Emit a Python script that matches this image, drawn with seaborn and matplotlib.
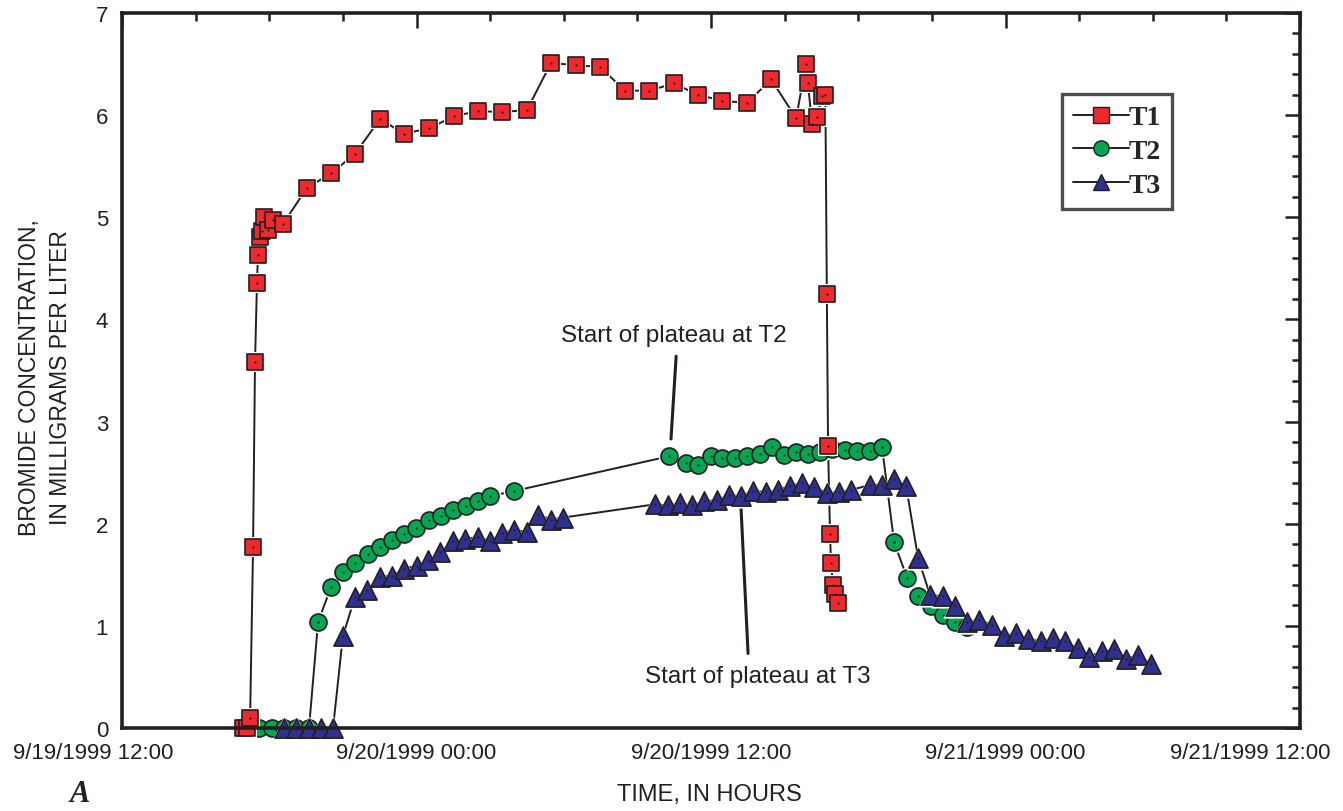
import matplotlib
matplotlib.use("Agg")
import matplotlib.pyplot as plt
import matplotlib.dates as mdates
import matplotlib.transforms as mtransforms
from matplotlib.ticker import MultipleLocator, FuncFormatter
from matplotlib.lines import Line2D
import pandas as pd
import seaborn as sns

start = pd.Timestamp("1999-09-19 12:00")

# elapsed hours since 9/19/1999 12:00 and bromide concentration (mg/L)
t1_hours = [4.93, 5.10, 5.22, 5.34, 5.42, 5.50, 5.54, 5.62, 5.70, 5.78, 5.95, 6.15, 6.55,
            7.54, 8.52, 9.49, 10.51, 11.49, 12.51, 13.53, 14.51, 15.48, 16.50, 17.48,
            18.50, 19.48, 20.50, 21.48, 22.49, 23.47, 24.45, 25.47, 26.45, 27.47, 27.87,
            27.95, 28.12, 28.32, 28.52, 28.66, 28.72, 28.77, 28.85, 28.89, 28.97, 29.05, 29.18]
t1_conc = [0.0, 0.0, 0.1, 1.77, 3.58, 4.36, 4.63, 4.81, 4.87, 5.0, 4.88, 4.97, 4.93,
           5.29, 5.43, 5.62, 5.96, 5.82, 5.87, 5.99, 6.04, 6.03, 6.05, 6.51,
           6.49, 6.47, 6.24, 6.24, 6.31, 6.20, 6.14, 6.12, 6.35, 5.97, 6.50,
           6.31, 5.91, 5.98, 6.19, 6.20, 4.25, 2.76, 1.90, 1.62, 1.40, 1.31, 1.22]

t2_hours = [5.58, 6.11, 6.60, 7.09, 7.62, 7.99, 8.52, 9.00, 9.49, 10.02, 10.51, 11.00,
            11.49, 11.98, 12.51, 13.00, 13.49, 14.02, 14.51, 15.00, 15.97, 22.29, 22.98,
            23.47, 24.00, 24.45, 24.98, 25.47, 26.00, 26.49, 26.98, 27.47, 27.95, 28.44,
            28.93, 29.46, 29.95, 30.48, 30.97, 31.46, 31.99, 32.44, 32.97, 33.46, 33.94, 34.43]
t2_conc = [0.0, 0.0, 0.0, 0.0, 0.0, 1.04, 1.38, 1.53, 1.62, 1.70, 1.77, 1.84,
           1.90, 1.96, 2.04, 2.08, 2.13, 2.17, 2.22, 2.27, 2.32, 2.66, 2.59,
           2.57, 2.66, 2.64, 2.64, 2.66, 2.68, 2.75, 2.67, 2.70, 2.68, 2.70,
           2.73, 2.72, 2.71, 2.71, 2.75, 1.82, 1.47, 1.29, 1.19, 1.11, 1.04, 0.99]

t3_hours = [6.60, 7.09, 7.62, 8.11, 8.60, 9.00, 9.49, 9.98, 10.51, 11.00, 11.49, 12.02,
            12.47, 12.96, 13.49, 13.98, 14.51, 15.00, 15.48, 15.97, 16.50, 16.95, 17.48,
            17.97, 21.72, 22.25, 22.74, 23.23, 23.72, 24.25, 24.73, 25.22, 25.71, 26.24,
            26.73, 27.22, 27.71, 28.20, 28.73, 29.22, 29.71, 30.48, 30.97, 31.46, 31.95,
            32.44, 32.93, 33.46, 33.94, 34.43, 34.92, 35.45, 35.94, 36.43, 36.92, 37.45,
            37.94, 38.43, 38.96, 39.40, 39.93, 40.42, 40.91, 41.40, 41.93]
t3_conc = [0.0, 0.0, 0.0, 0.0, 0.0, 0.90, 1.28, 1.35, 1.48, 1.49, 1.56, 1.59,
           1.64, 1.72, 1.83, 1.85, 1.87, 1.83, 1.91, 1.94, 1.92, 2.09, 2.04,
           2.06, 2.19, 2.18, 2.20, 2.18, 2.22, 2.23, 2.28, 2.27, 2.32, 2.31,
           2.33, 2.37, 2.40, 2.36, 2.30, 2.31, 2.33, 2.38, 2.38, 2.44, 2.37,
           1.66, 1.30, 1.29, 1.19, 1.04, 1.06, 1.01, 0.90, 0.93, 0.87, 0.85,
           0.88, 0.85, 0.78, 0.70, 0.75, 0.77, 0.68, 0.71, 0.63]

series_names = ["T1", "T2", "T3"]
x_tick_hours = [0, 12, 24, 36, 48]

frames = []
for name, hrs_, conc in [("T1", t1_hours, t1_conc), ("T2", t2_hours, t2_conc), ("T3", t3_hours, t3_conc)]:
    frames.append(pd.DataFrame({"series": name,
                                "time": start + pd.to_timedelta(hrs_, unit="h"),
                                "conc": conc}))
df = pd.concat(frames, ignore_index=True)

sns.set_theme(style="white")
plt.rcParams['font.family'] = ['Liberation Sans', 'DejaVu Sans']

fig = plt.figure(figsize=(13.43, 8.12), dpi=100)
ax = fig.add_axes([122/1343, 1 - 729/812, (1300-122)/1343, (729-14)/812])

edge = "#231f20"
style = {
    "T1": dict(marker="s", color="#ee2a2e", s=125),
    "T2": dict(marker="o", color="#00a651", s=150),
    "T3": dict(marker="^", color="#2e3192", s=190),
}

# connecting lines (below all markers)
for name in series_names:
    sub = df[df.series == name]
    sns.lineplot(data=sub, x="time", y="conc", color=edge, lw=1.4, estimator=None,
                 sort=False, ax=ax, zorder=2, legend=False)

# markers: draw T2, T3, then T1 on top
for zi, name in enumerate(["T2", "T3", "T1"]):
    sub = df[df.series == name]
    st = style[name]
    sns.scatterplot(data=sub, x="time", y="conc", marker=st["marker"], s=st["s"] * 1.6,
                    color="white", linewidth=0, ax=ax, zorder=3 + zi * 3, clip_on=False, legend=False)
    sns.scatterplot(data=sub, x="time", y="conc", marker=st["marker"], s=st["s"],
                    color=st["color"], edgecolor=edge, linewidth=1.2, ax=ax,
                    zorder=4 + zi * 3, clip_on=False, legend=False)
    sns.scatterplot(data=sub, x="time", y="conc", marker="o", s=2.5,
                    color=edge, linewidth=0, ax=ax, zorder=5 + zi * 3, clip_on=False, legend=False)

ax.set_xlim(start, start + pd.Timedelta(hours=48))
ax.set_ylim(0, 7)
ax.set_xticks([start + pd.Timedelta(hours=h) for h in x_tick_hours])
ax.xaxis.set_minor_locator(mdates.HourLocator(byhour=range(0, 24, 3)))
def fmt(v, pos):
    d = mdates.num2date(v)
    return f"{d.month}/{d.day}/{d.year} {d:%H:%M}"
ax.xaxis.set_major_formatter(FuncFormatter(fmt))
ax.yaxis.set_major_locator(MultipleLocator(1))
ax.yaxis.set_minor_locator(MultipleLocator(0.2))
ax.set_xlabel("")
ax.set_ylabel("")

ax.tick_params(which="both", direction="in", top=True, right=True, width=1.8, colors=edge,
               labelcolor="#231f20")
ax.tick_params(which="major", length=11, labelsize=16)
ax.tick_params(which="minor", length=6)
ax.tick_params(axis="x", which="major", pad=10)
ax.tick_params(axis="y", which="major", pad=10)
for sp in ax.spines.values():
    sp.set_linewidth(2.6)
    sp.set_color(edge)
    sp.set_zorder(20)

def hrs(h):
    return start + pd.Timedelta(hours=h)

# annotations
ax.text(hrs(22.49), 3.85, "Start of plateau at T2", ha="center", va="center", fontsize=17.5, color=edge)
ax.plot([hrs(22.58), hrs(22.37)], [3.64, 2.83], color=edge, lw=2.2, zorder=2)
ax.text(hrs(25.92), 0.51, "Start of plateau at T3", ha="center", va="center", fontsize=17.5, color=edge)
ax.plot([hrs(25.22), hrs(25.51)], [2.17, 0.73], color=edge, lw=2.2, zorder=2)

# legend
handles = [Line2D([0], [0], color=edge, lw=1.4, marker=style[n]["marker"],
                  markerfacecolor=style[n]["color"], markeredgecolor=edge, markersize=11)
           for n in series_names]
leg = ax.legend(handles, series_names, loc="upper left", bbox_to_anchor=(0.798, 0.887),
                borderaxespad=0, frameon=True, fancybox=False, handlelength=2.0,
                handletextpad=0.0, borderpad=0.4, labelspacing=0.3,
                prop=dict(family="Liberation Serif", weight="bold", size=20))
leg.get_frame().set_edgecolor(edge)
leg.get_frame().set_linewidth(2.4)
leg.set_zorder(30)

fig.text(45/1343, 1 - 378/812, "BROMIDE CONCENTRATION,\nIN MILLIGRAMS PER LITER",
         rotation=90, ha="center", va="center", fontsize=16.5, linespacing=1.45, color=edge,
         family=["Liberation Sans Narrow", "Liberation Sans", "DejaVu Sans"])
fig.text(709/1343, 1 - 795/812, "TIME, IN HOURS", ha="center", va="center", fontsize=17, color=edge)
fig.text(80/1343, 1 - 795/812, "A", ha="center", va="center", fontsize=22, color=edge,
         family="Liberation Serif", weight="bold", style="italic")

# shift the outermost date labels inward, as in the original
fig.canvas.draw()
xt = ax.xaxis.get_major_ticks()
for tick, dx in [(xt[0], -29), (xt[-1], -50)]:
    lab = tick.label1
    lab.set_transform(lab.get_transform() + mtransforms.ScaledTranslation(dx / 100, 0, fig.dpi_scale_trans))

fig.savefig("out.png", dpi=100, facecolor="white")
